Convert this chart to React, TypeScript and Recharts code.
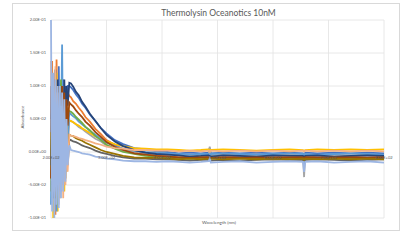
import React from 'react';
import { LineChart, Line, XAxis, YAxis, CartesianGrid } from 'recharts';

// Wavelengths (nm) shared by every spectrum
const WAVELENGTHS = [
  200, 202, 204, 206, 208, 210, 212, 214, 216, 218, 220, 222, 224, 226, 228, 230, 233,
  236, 240, 245, 250, 256, 262, 270, 280, 290, 300, 315, 330, 350, 370, 390,
  410, 430, 450, 470, 484, 486, 488, 510, 540, 570, 600, 630, 654, 656, 658, 680, 710, 740, 770, 800,
];

const SPEC_BLUE = [
  0.05, 0.12, -0.06, 0.09, -0.04, 0.11, -0.07, 0.13, -0.03, 0.1, -0.05, 0.11, 0.02, 0.1, 0.06, 0.1, 0.1,
  0.098, 0.094, 0.087, 0.082, 0.073, 0.067, 0.057, 0.047, 0.036, 0.028, 0.018, 0.012, 0.006, 0.004, 0.001,
  0, -0.002, -0.001, -0.002, -0.001, 0.006, -0.002, -0.001, -0.002, -0.001, -0.002, -0.001, -0.002, -0.012, -0.001, -0.002, -0.001, -0.002, -0.001, -0.002,
];
const SPEC_ORANGE = [
  0.06, 0.138, -0.04, 0.07, -0.095, 0.14, -0.02, 0.1, -0.06, 0.09, 0.0, 0.1, -0.04, 0.095, 0.03, 0.09, 0.085,
  0.083, 0.077, 0.073, 0.067, 0.061, 0.053, 0.046, 0.035, 0.027, 0.018, 0.011, 0.004, 0, -0.003, -0.005,
  -0.006, -0.008, -0.007, -0.008, -0.007, -0.009, -0.007, -0.008, -0.007, -0.008, -0.007, -0.008, -0.007, -0.007, -0.008, -0.007, -0.008, -0.007, -0.008, -0.007,
];
const SPEC_GRAY = [
  0.08, -0.02, 0.06, -0.09, 0.07, -0.01, 0.09, -0.05, 0.05, -0.06, 0.08, -0.04, 0.06, -0.03, 0.05, 0.0, 0.048,
  0.047, 0.045, 0.042, 0.038, 0.035, 0.031, 0.026, 0.02, 0.016, 0.01, 0.006, 0.002, 0, -0.002, -0.003,
  -0.004, -0.005, -0.004, -0.005, -0.004, 0.008, -0.005, -0.004, -0.005, -0.004, -0.005, -0.004, -0.005, -0.038, -0.004, -0.005, -0.004, -0.005, -0.004, -0.005,
];
const SPEC_YELLOW = [
  -0.06, 0.07, -0.1, 0.06, -0.02, 0.12, -0.09, 0.08, -0.07, 0.06, -0.05, 0.07, -0.06, 0.06, -0.03, 0.05, 0.047,
  0.047, 0.045, 0.042, 0.04, 0.036, 0.033, 0.029, 0.024, 0.02, 0.016, 0.012, 0.009, 0.006, 0.005, 0.004,
  0.004, 0.003, 0.002, 0.003, 0.004, 0.003, 0.003, 0.004, 0.003, 0.002, 0.003, 0.004, 0.003, 0.002, 0.003, 0.004, 0.003, 0.004, 0.003, 0.004,
];
const SPEC_LIGHT_BLUE = [
  -0.08, 0.1, -0.05, 0.08, 0.02, -0.09, 0.09, -0.04, 0.07, 0.03, 0.163, -0.02, 0.09, 0.01, 0.07, 0.02, 0.06,
  0.057, 0.054, 0.051, 0.046, 0.042, 0.038, 0.032, 0.026, 0.02, 0.014, 0.009, 0.005, 0.002, 0, -0.001,
  -0.002, -0.003, -0.004, -0.003, -0.003, -0.014, -0.003, -0.002, -0.003, -0.004, -0.003, -0.002, -0.003, -0.022, -0.003, -0.004, -0.003, -0.002, -0.003, -0.004,
];
const SPEC_GREEN = [
  0.02, -0.07, 0.1, -0.03, 0.08, 0.04, -0.08, 0.1, -0.04, 0.11, -0.03, 0.08, -0.01, 0.07, 0.0, 0.065, 0.062,
  0.061, 0.058, 0.053, 0.049, 0.044, 0.038, 0.033, 0.024, 0.018, 0.011, 0.005, 0, -0.003, -0.006, -0.007,
  -0.008, -0.009, -0.01, -0.009, -0.009, -0.01, -0.009, -0.01, -0.009, -0.01, -0.009, -0.01, -0.009, -0.01, -0.009, -0.009, -0.01, -0.009, -0.01, -0.009,
];
const SPEC_DARK_BLUE = [
  0.1, -0.05, 0.08, -0.07, 0.125, -0.03, 0.11, -0.05, 0.09, 0.05, 0.1, -0.03, 0.11, 0.04, 0.1, 0.07, 0.105,
  0.104, 0.099, 0.091, 0.086, 0.076, 0.069, 0.058, 0.047, 0.036, 0.026, 0.016, 0.009, 0.003, -0.001, -0.003,
  -0.004, -0.005, -0.007, -0.006, -0.005, -0.006, -0.007, -0.005, -0.006, -0.007, -0.005, -0.006, -0.006, -0.008, -0.006, -0.005, -0.007, -0.006, -0.005, -0.006,
];
const SPEC_DARK_ORANGE = [
  -0.04, 0.09, 0.03, 0.11, -0.05, 0.07, 0.1, -0.06, 0.08, -0.02, 0.1, 0.02, 0.09, -0.02, 0.08, 0.04, 0.075,
  0.072, 0.069, 0.063, 0.058, 0.053, 0.046, 0.04, 0.03, 0.023, 0.015, 0.008, 0.003, -0.002, -0.004, -0.006,
  -0.007, -0.008, -0.009, -0.008, -0.008, -0.008, -0.009, -0.008, -0.009, -0.008, -0.009, -0.008, -0.008, -0.009, -0.008, -0.009, -0.008, -0.008, -0.009, -0.008,
];
const SPEC_DARK_GRAY = [
  -0.02, 0.08, -0.07, 0.04, 0.09, -0.06, 0.05, -0.02, 0.08, -0.06, 0.04, -0.05, 0.03, -0.03, 0.03, -0.02, 0.019,
  0.018, 0.016, 0.015, 0.013, 0.01, 0.008, 0.006, 0.002, -0.001, -0.003, -0.006, -0.008, -0.01, -0.01, -0.011,
  -0.011, -0.012, -0.013, -0.012, -0.012, -0.012, -0.013, -0.012, -0.013, -0.012, -0.011, -0.012, -0.012, -0.013, -0.012, -0.011, -0.012, -0.013, -0.012, -0.011,
];
const SPEC_DARK_GOLD = [
  0.03, -0.04, 0.09, 0.01, -0.07, 0.08, -0.03, 0.06, 0.0, -0.05, 0.07, -0.02, 0.05, -0.04, 0.04, -0.01, 0.026,
  0.025, 0.024, 0.021, 0.019, 0.017, 0.014, 0.011, 0.007, 0.003, 0, -0.003, -0.006, -0.008, -0.009, -0.009,
  -0.01, -0.011, -0.01, -0.011, -0.01, -0.011, -0.01, -0.011, -0.01, -0.011, -0.01, -0.011, -0.01, -0.012, -0.01, -0.011, -0.01, -0.011, -0.01, -0.011,
];
const SPEC_PEACH = [
  0.138, -0.03, 0.1, -0.06, 0.13, -0.04, 0.09, -0.08, 0.06, -0.03, 0.07, -0.07, 0.05, -0.05, 0.04, -0.03, 0.026,
  0.025, 0.024, 0.023, 0.021, 0.02, 0.018, 0.016, 0.013, 0.011, 0.008, 0.006, 0.005, 0.003, 0.003, 0.002,
  0.002, 0.001, 0.002, 0.001, 0.002, 0.001, 0.002, 0.001, 0.002, 0.001, 0.002, 0.001, 0.002, 0.001, 0.002, 0.001, 0.002, 0.001, 0.002, 0.001,
];
const SPEC_PERIWINKLE = [
  0.2, -0.09, 0.12, -0.1, 0.11, -0.08, 0.1, -0.085, 0.1, -0.07, 0.09, -0.06, 0.08, -0.045, 0.05, -0.02, 0.01,
  0.003, 0.002, 0.001, 0, -0.002, -0.003, -0.004, -0.007, -0.008, -0.01, -0.011, -0.013, -0.014, -0.014, -0.015,
  -0.014, -0.015, -0.016, -0.015, -0.014, -0.01, -0.016, -0.015, -0.014, -0.016, -0.015, -0.014, -0.015, -0.03, -0.015, -0.014, -0.016, -0.015, -0.014, -0.016,
];

const SPECTRA = [
  SPEC_BLUE, SPEC_ORANGE, SPEC_GRAY, SPEC_YELLOW, SPEC_LIGHT_BLUE, SPEC_GREEN,
  SPEC_DARK_BLUE, SPEC_DARK_ORANGE, SPEC_DARK_GRAY, SPEC_DARK_GOLD, SPEC_PEACH, SPEC_PERIWINKLE,
];
const COLORS = [
  '#4472C4', '#ED7D31', '#A5A5A5', '#FFC000', '#5B9BD5', '#70AD47',
  '#264478', '#9E480E', '#636363', '#997300', '#F4B183', '#9DB6E3',
];

const X_TICKS = [200, 300, 400, 500, 600, 700, 800];
const Y_TICKS = [-0.1, -0.05, 0, 0.05, 0.1, 0.15, 0.2];
const TITLE = 'Thermolysin Oceanotics 10nM';
const X_TITLE = 'Wavelength (nm)';
const Y_TITLE = 'Absorbance';

const data = WAVELENGTHS.map((wl, i) => {
  const row: Record<string, number> = { wl };
  SPECTRA.forEach((s, j) => {
    row['s' + j] = s[i];
  });
  return row;
});

const sci = (v: number) => {
  const [m, e] = v.toExponential(2).split('e');
  const n = parseInt(e, 10);
  const sign = n < 0 ? '-' : '+';
  return `${m}E${sign}${String(Math.abs(n)).padStart(2, '0')}`;
};

const W = 411;
const H = 242;
const M = { top: 20, right: 27, bottom: 23, left: 11 };
const Y_AXIS_W = 40;
const X_AXIS_H = 1;
const PLOT_TOP = M.top;
const PLOT_H = H - M.top - M.bottom - X_AXIS_H;
const Y_MIN = -0.1;
const Y_MAX = 0.2;
const ZERO_Y = PLOT_TOP + ((Y_MAX - 0) / (Y_MAX - Y_MIN)) * PLOT_H;
const FONT = 'Lato, "Open Sans", sans-serif';
const TEXT = '#595959';

const XTick = (props: any) => (
  <text x={props.x} y={ZERO_Y + 6.5} textAnchor="middle" fontSize={4} fill={TEXT} fontFamily={FONT}>
    {sci(props.payload.value)}
  </text>
);

export default function App() {
  return (
    <div style={{ position: 'absolute', left: 0, top: 0, width: W, height: H, background: '#fff' }}>
      <div
        style={{
          position: 'absolute',
          left: 12,
          top: 3,
          width: 386,
          height: 226,
          border: '1px solid #D9D9D9',
        }}
      />
      <LineChart
        width={W}
        height={H}
        data={data}
        margin={M}
        style={{ position: 'absolute', left: 0, top: 0 }}
      >
        <CartesianGrid stroke="#E2E2E2" strokeWidth={0.8} />
        <XAxis
          dataKey="wl"
          type="number"
          domain={[200, 800]}
          ticks={X_TICKS}
          height={X_AXIS_H}
          axisLine={false}
          tickLine={false}
          tick={XTick}
          interval={0}
          zIndex={350}
          label={{
            content: () => (
              <text x={219} y={223.5} textAnchor="middle" fontSize={4.6} fill={TEXT} fontFamily={FONT}>
                {X_TITLE}
              </text>
            ),
          }}
        />
        <YAxis
          type="number"
          domain={[Y_MIN, Y_MAX]}
          ticks={Y_TICKS}
          width={Y_AXIS_W}
          axisLine={false}
          tickLine={false}
          tickSize={3}
          tickMargin={2}
          interval={0}
          tickFormatter={sci}
          tick={{ fontSize: 4, fill: TEXT, fontFamily: FONT }}
          label={{
            content: () => (
              <text
                transform="translate(23.5,117) rotate(-90)"
                textAnchor="middle"
                fontSize={4.4}
                fill={TEXT}
                fontFamily={FONT}
              >
                {Y_TITLE}
              </text>
            ),
          }}
        />
        {SPECTRA.map((_, j) => (
          <Line
            key={j}
            dataKey={'s' + j}
            type="linear"
            stroke={COLORS[j]}
            strokeWidth={1.8}
            dot={false}
            activeDot={false}
            isAnimationActive={false}
          />
        ))}
        <text x={218.5} y={16} textAnchor="middle" fontSize={8.5} fill={TEXT} fontFamily={FONT}>
          {TITLE}
        </text>
      </LineChart>
    </div>
  );
}
